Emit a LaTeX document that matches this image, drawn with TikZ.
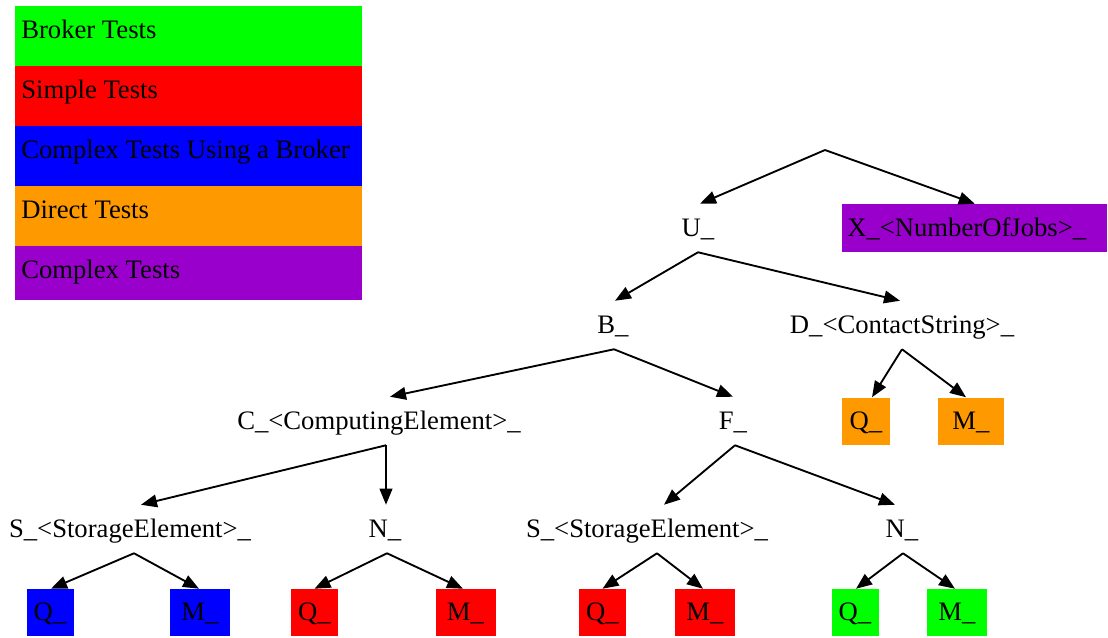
\documentclass[tikz,border=0pt]{standalone}
\usepackage{fontspec}
\setmainfont{Liberation Serif}
\usetikzlibrary{arrows.meta,calc}
\definecolor{gvgreen}{RGB}{0,255,0}
\definecolor{gvred}{RGB}{255,0,0}
\definecolor{gvblue}{RGB}{0,0,255}
\definecolor{gvorange}{RGB}{255,153,0}
\definecolor{gvpurple}{RGB}{153,0,204}
\begin{document}
\begin{tikzpicture}[x=0.75pt,y=-0.75pt,
  lbl/.style={font=\fontsize{20}{24}\selectfont, inner sep=0pt, text height=14pt, text depth=2pt, minimum height=36pt},
  legtxt/.style={font=\fontsize{20}{24}\selectfont, inner sep=0pt, anchor=base west},
  qbox/.style={lbl, fill=#1, minimum width=35.25pt, minimum height=35.25pt},
  mbox/.style={lbl, fill=#1, minimum width=45pt, minimum height=35.25pt},
  arr/.style={-{Triangle[length=12pt,width=9.5pt]}, line width=1.4pt}]
\useasboundingbox (0,0) rectangle (1108,637);
% legend
\fill[gvgreen]  (15,6)   rectangle (362,66);
\fill[gvred]    (15,66)  rectangle (362,126);
\fill[gvblue]   (15,126) rectangle (362,186);
\fill[gvorange] (15,186) rectangle (362,246);
\fill[gvpurple] (15,246) rectangle (362,300);
\node[legtxt] (lg1) at (21,38)  {Broker Tests};
\node[legtxt] (lg2) at (21,98)  {Simple Tests};
\node[legtxt] (lg3) at (21,158) {Complex Tests Using a Broker};
\node[legtxt] (lg4) at (21,218) {Direct Tests};
\node[legtxt] (lg5) at (21,278) {Complex Tests};
% tree
\coordinate (root) at (825,150);
\node[lbl] (u) at (698,228) {U\_};
\node[lbl, fill=gvpurple, anchor=west, text width=191.25pt, align=left, inner xsep=3.75pt, minimum height=36pt] (x) at (842,228) {X\_<NumberOfJobs>\_};
\node[lbl] (b) at (613,325) {B\_};
\node[lbl] (d) at (902,325) {D\_<ContactString>\_};
\node[lbl] (c) at (379,421) {C\_<ComputingElement>\_};
\node[lbl] (f) at (733,421) {F\_};
\node[qbox=gvorange, minimum width=36pt] (oq) at (866,421) {Q\_};
\node[mbox=gvorange, minimum width=49.5pt] (om) at (971,421) {M\_};
\node[lbl] (sl) at (130,529) {S\_<StorageElement>\_};
\node[lbl] (nl) at (385,529) {N\_};
\node[lbl] (sr) at (647,529) {S\_<StorageElement>\_};
\node[lbl] (nr) at (902,529) {N\_};
\node[qbox=gvblue] (bq) at (50,612.5) {Q\_};
\node[mbox=gvblue] (bm) at (200,612.5) {M\_};
\node[qbox=gvred] (rq) at (314.5,612.5) {Q\_};
\node[mbox=gvred] (rm) at (465.5,612.5) {M\_};
\node[qbox=gvred] (rq2) at (602.5,612.5) {Q\_};
\node[mbox=gvred] (rm2) at (705,612.5) {M\_};
\node[qbox=gvgreen] (gq) at (855,612.5) {Q\_};
\node[mbox=gvgreen] (gm) at (957,612.5) {M\_};
% edges
\draw[arr] (root) -- ($(u.north)+(2,0)$);
\draw[arr] (root) -- (x.north);
\draw[arr] (u.south) -- ($(b.north)+(2,0)$);
\draw[arr] (u.south) -- ($(d.north)+(-2,0)$);
\draw[arr] ($(b.south)+(1,0)$) -- ($(c.north)+(11,0)$);
\draw[arr] ($(b.south)+(1,0)$) -- (f.north);
\draw[arr] (d.south) -- ($(oq.north)+(6,0)$);
\draw[arr] (d.south) -- ($(om.north)+(-5,0)$);
\draw[arr] ($(c.south)+(7,0)$) -- ($(sl.north)+(11,0)$);
\draw[arr] ($(c.south)+(7,0)$) -- ($(nl.north)+(1,0)$);
\draw[arr] ($(f.south)+(2,0)$) -- ($(sr.north)+(17,0)$);
\draw[arr] ($(f.south)+(2,0)$) -- ($(nr.north)+(-7,0)$);
\draw[arr] ($(sl.south)+(4,0)$) -- ($(bq.north)+(1,0)$);
\draw[arr] ($(sl.south)+(4,0)$) -- ($(bm.north)+(-1,0)$);
\draw[arr] ($(nl.south)+(2,0)$) -- (rq.north);
\draw[arr] ($(nl.south)+(2,0)$) -- ($(rm.north)+(-2.5,0)$);
\draw[arr] ($(sr.south)+(10,0)$) -- (rq2.north);
\draw[arr] ($(sr.south)+(10,0)$) -- ($(rm2.north)+(-2,0)$);
\draw[arr] ($(nr.south)+(1,0)$) -- ($(gq.north)+(1,0)$);
\draw[arr] ($(nr.south)+(1,0)$) -- ($(gm.north)+(-2,0)$);
\end{tikzpicture}
\end{document}
